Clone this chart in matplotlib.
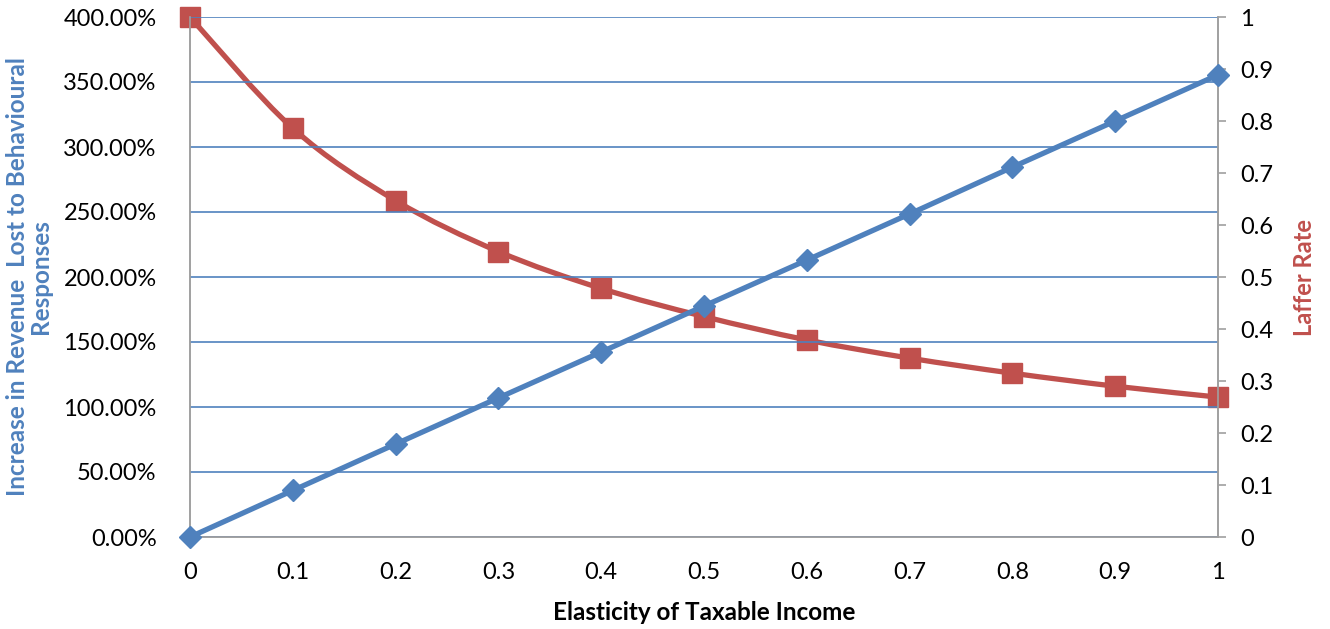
import matplotlib.pyplot as plt
from matplotlib.path import Path
from matplotlib.patches import PathPatch
from matplotlib.ticker import FuncFormatter

plt.rcParams['font.family'] = ['Lato', 'DejaVu Sans']

# data
elasticity = [0, 0.1, 0.2, 0.3, 0.4, 0.5, 0.6, 0.7, 0.8, 0.9, 1]
revenue_lost = [0, 35.8, 71.5, 107, 142.3, 177.7, 213, 248.5, 284.5, 320, 355.5]
laffer_rate = [1, 0.786, 0.647, 0.549, 0.478, 0.424, 0.379, 0.344, 0.315, 0.290, 0.269]
x_ticks = ['0', '0.1', '0.2', '0.3', '0.4', '0.5', '0.6', '0.7', '0.8', '0.9', '1']

blue = '#4F81BD'
red = '#C0504D'
grey = '#A0A0A0'


def smooth_path(xs, ys):
    # excel style smoothed line (bezier through the points)
    n = len(xs)
    verts = [(xs[0], ys[0])]
    codes = [Path.MOVETO]
    for i in range(n - 1):
        i0 = max(i - 1, 0)
        i3 = min(i + 2, n - 1)
        c1 = (xs[i] + (xs[i + 1] - xs[i0]) / 6, ys[i] + (ys[i + 1] - ys[i0]) / 6)
        c2 = (xs[i + 1] - (xs[i3] - xs[i]) / 6, ys[i + 1] - (ys[i3] - ys[i]) / 6)
        verts += [c1, c2, (xs[i + 1], ys[i + 1])]
        codes += [Path.CURVE4] * 3
    return Path(verts, codes)


fig = plt.figure(figsize=(13.3, 6.29), dpi=100)
ax = fig.add_axes([190 / 1330, 92 / 629, 1028 / 1330, 520 / 629])
ax2 = ax.twinx()

ax.set_zorder(ax2.get_zorder() + 1)
ax.patch.set_visible(False)

ax.plot(elasticity, revenue_lost, color=blue, lw=3.8, marker='D', ms=11,
        clip_on=False, zorder=5)

ax2.add_patch(PathPatch(smooth_path(elasticity, laffer_rate), facecolor='none',
                        edgecolor=red, lw=3.8, clip_on=False, zorder=3))
ax2.plot(elasticity, laffer_rate, ls='none', color=red, marker='s', ms=15,
         clip_on=False, zorder=4)

ax.set_xlim(0, 1)
ax.set_ylim(0, 400)
ax2.set_ylim(0, 1)

ax.set_xticks(elasticity)
ax.set_xticklabels(x_ticks)
ax.set_yticks(range(0, 401, 50))
ax.yaxis.set_major_formatter(FuncFormatter(lambda v, p: f'{v:.2f}%'))
ax2.set_yticks([i / 10 for i in range(11)])
ax2.set_yticklabels(['0', '0.1', '0.2', '0.3', '0.4', '0.5', '0.6', '0.7', '0.8', '0.9', '1'])

ax.grid(True, axis='y', color=blue, lw=1.2)
ax.tick_params(axis='y', length=0, labelsize=17, pad=24)
ax.tick_params(axis='x', length=0, labelsize=17, pad=18)
ax2.tick_params(axis='y', length=6, width=1.2, color=grey, labelsize=17, pad=10)

for a in (ax, ax2):
    a.spines['top'].set_visible(False)
    for s in ('left', 'right', 'bottom'):
        a.spines[s].set_color(grey)
        a.spines[s].set_linewidth(1.2)

ax.set_xlabel('Elasticity of Taxable Income', fontsize=17.5, fontweight='bold', labelpad=13)
ax.set_ylabel('Increase in Revenue  Lost to Behavioural\nResponses', fontsize=17.5,
              fontweight='bold', color=blue, labelpad=8, linespacing=1.0)
ax2.set_ylabel('Laffer Rate', fontsize=17, fontweight='bold', color=red, labelpad=14)

fig.savefig('out.png', dpi=100)
